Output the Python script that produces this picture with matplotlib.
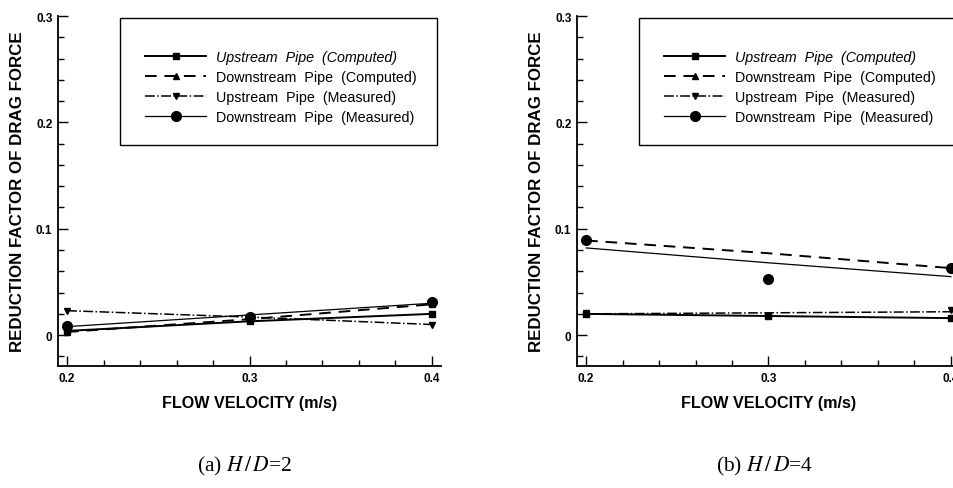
import matplotlib
matplotlib.use("Agg")
import matplotlib.pyplot as plt
from matplotlib.patches import Rectangle
from matplotlib.ticker import MultipleLocator, FixedLocator

plt.rcParams['font.family'] = ['Liberation Sans', 'DejaVu Sans']
plt.rcParams['mathtext.fontset'] = 'stix'

# flow velocity (m/s)
velocity = [0.2, 0.3, 0.4]

# H/D = 2
up_comp_2 = [0.004, 0.013, 0.020]
down_comp_2 = [0.003, 0.015, 0.029]
up_meas_2 = [0.023, 0.017, 0.010]
down_meas_2 = [0.009, 0.017, 0.031]
down_meas_line_2 = [0.008, 0.019, 0.030]

# H/D = 4
up_comp_4 = [0.020, 0.018, 0.016]
down_comp_4 = [0.089, 0.077, 0.063]
up_meas_4 = [0.021, 0.018, 0.024]
up_meas_line_4 = [0.020, 0.021, 0.022]
down_meas_4 = [0.089, 0.053, 0.063]
down_meas_line_4 = [0.082, 0.068, 0.055]

labels = ["Upstream  Pipe  (Computed)", "Downstream  Pipe  (Computed)",
          "Upstream  Pipe  (Measured)", "Downstream  Pipe  (Measured)"]
captions = ["(a) $H\\,/\\,D$=2", "(b) $H\\,/\\,D$=4"]

fig = plt.figure(figsize=(9.54, 4.89), dpi=100)
W, H = 954.0, 489.0


def setup(ax):
    ax.set_xlim(0.195, 0.405)
    ax.set_ylim(-0.029, 0.3)
    ax.spines['top'].set_visible(False)
    ax.spines['right'].set_visible(False)
    for s in ['left', 'bottom']:
        ax.spines[s].set_linewidth(1.3)
    ax.xaxis.set_major_locator(FixedLocator([0.2, 0.3, 0.4]))
    ax.xaxis.set_minor_locator(MultipleLocator(0.02))
    ax.yaxis.set_major_locator(FixedLocator([0.0, 0.1, 0.2, 0.3]))
    ax.yaxis.set_minor_locator(MultipleLocator(0.02))
    ax.set_xticklabels(["0.2", "0.3", "0.4"])
    ax.set_yticklabels(["0", "0.1", "0.2", "0.3"])
    ax.tick_params(which='both', direction='in', width=1.0)
    ax.tick_params(which='major', length=7, labelsize=8.5, pad=4)
    ax.tick_params(which='minor', length=4)
    for t in ax.get_xticklabels() + ax.get_yticklabels():
        t.set_fontweight('bold')
    ax.set_xlabel("FLOW VELOCITY (m/s)", fontsize=11.6, fontweight='bold')
    ax.set_ylabel("REDUCTION FACTOR OF DRAG FORCE", fontsize=12.2, fontweight='bold')
    ax.xaxis.set_label_coords(0.5, -0.082)
    ax.yaxis.set_label_coords(-0.085, 0.5)


def draw_legend(ax, handles):
    ax.add_patch(Rectangle((0.162, 0.631), 0.828, 0.363, transform=ax.transAxes,
                           fill=False, lw=1.0, ec='black', clip_on=False, zorder=5))
    leg = ax.legend(handles, labels, loc='upper left', bbox_to_anchor=(0.212, 0.918),
                    frameon=False, fontsize=10.3, handlelength=4.3, handletextpad=0.7,
                    labelspacing=0.42, borderaxespad=0)
    leg.get_texts()[0].set_fontstyle('italic')


# left panel
ax1 = fig.add_axes([58 / W, 1 - 367 / H, 383 / W, 350 / H])
h1, = ax1.plot(velocity, up_comp_2, 'k-', lw=1.4, marker='s', ms=4, clip_on=False)
h2, = ax1.plot(velocity, down_comp_2, 'k--', lw=1.4, marker='^', ms=4, dashes=(6, 4), clip_on=False)
h3, = ax1.plot(velocity, up_meas_2, 'k-.', lw=1.1, marker='v', ms=5, clip_on=False)
ax1.plot(velocity, down_meas_line_2, 'k-', lw=0.9)
ax1.plot(velocity, down_meas_2, 'ko', ms=7, clip_on=False)
h4, = ax1.plot([], [], 'k-', lw=0.9, marker='o', ms=7)
setup(ax1)
draw_legend(ax1, [h1, h2, h3, h4])

# right panel
ax2 = fig.add_axes([577 / W, 1 - 367 / H, 383 / W, 350 / H])
ax2.plot(velocity, up_comp_4, 'k-', lw=1.4, marker='s', ms=4, clip_on=False)
ax2.plot(velocity, down_comp_4, 'k--', lw=1.4, dashes=(6, 4), clip_on=False)
ax2.plot(velocity, up_meas_line_4, 'k-.', lw=1.1)
ax2.plot(velocity, up_meas_4, 'kv', ms=5, clip_on=False)
ax2.plot(velocity, down_meas_line_4, 'k-', lw=0.9)
ax2.plot(velocity, down_meas_4, 'ko', ms=7, clip_on=False)
setup(ax2)
draw_legend(ax2, [h1, h2, h3, h4])

fig.text(245 / W, 1 - 466 / H, captions[0], ha='center', va='center',
         fontsize=15.5, family='Liberation Serif')
fig.text(765 / W, 1 - 466 / H, captions[1], ha='center', va='center',
         fontsize=15.5, family='Liberation Serif')

fig.savefig("out.png", dpi=100)
